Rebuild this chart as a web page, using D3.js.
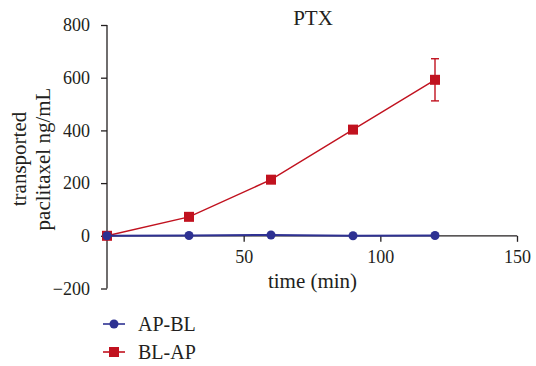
<!DOCTYPE html>
<html>
<head>
<meta charset="utf-8">
<script src="https://cdn.jsdelivr.net/npm/d3@7"></script>
<style>
  html, body { margin: 0; padding: 0; background: #fff; }
  svg text { font-family: "Liberation Serif", "DejaVu Serif", serif; fill: #231f20; }
</style>
</head>
<body>
<svg id="chart" width="536" height="366"></svg>
<script>
// Transport of paclitaxel over time, both directions
const times = [0, 30, 60, 90, 120];
const apBl = [0, 1, 3, 0, 1];
const blAp = [0, 72, 213, 403, 592];
const blApErr = [0, 0, 0, 0, 80];
const xTicks = [50, 100, 150];
const yTicks = [-200, 0, 200, 400, 600, 800];
const seriesNames = ["AP-BL", "BL-AP"];
const seriesColors = ["#2e3192", "#c1121f"];

const svg = d3.select("#chart");
const x = d3.scaleLinear().domain([0, 150]).range([107, 517]);
const y = d3.scaleLinear().domain([-200, 800]).range([288.5, 25]);

// y axis
const yAxis = svg.append("g")
  .attr("transform", `translate(${x(0)},0)`)
  .call(d3.axisLeft(y).tickValues(yTicks).tickSize(6).tickPadding(11)
    .tickFormat(d => d < 0 ? "\u2212" + Math.abs(d) : d));
// x axis through y = 0
const xAxis = svg.append("g")
  .attr("transform", `translate(0,${y(0)})`)
  .call(d3.axisBottom(x).tickValues(xTicks).tickSize(6).tickPadding(7));

[yAxis, xAxis].forEach(g => {
  g.select(".domain").attr("stroke", "#231f20").attr("stroke-width", 1.3);
  g.selectAll(".tick line").attr("stroke", "#231f20").attr("stroke-width", 1.3);
  g.selectAll(".tick text").attr("font-size", 18).style("fill", "#231f20")
    .style("font-family", '"Liberation Serif", serif');
});
yAxis.select(".domain").attr("d", `M0,${y(-200)}V${y(800)}`);
xAxis.select(".domain").attr("d", `M${x(0)},0H${x(150)}`);
xAxis.selectAll(".tick text").attr("dy", null).attr("y", 27);

// title and axis labels
svg.append("text").attr("x", 313).attr("y", 25).attr("text-anchor", "middle")
  .attr("font-size", 21).text("PTX");
svg.append("text").attr("x", 312.5).attr("y", 288).attr("text-anchor", "middle")
  .attr("font-size", 21).text("time (min)");
const yl = svg.append("text").attr("transform", "translate(0,159) rotate(-90)")
  .attr("text-anchor", "middle").attr("font-size", 21);
yl.append("tspan").attr("x", 0).attr("y", 26).text("transported");
yl.append("tspan").attr("x", 0).attr("y", 50).text("paclitaxel ng/mL");

const line = d3.line().x(d => x(d[0])).y(d => y(d[1]));

// BL-AP series
const blData = times.map((t, i) => [t, blAp[i], blApErr[i]]);
const bl = svg.append("g");
bl.selectAll(".err").data(blData.filter(d => d[2] > 0)).join("g").each(function(d) {
  const g = d3.select(this);
  const cx = x(d[0]);
  g.append("line").attr("x1", cx).attr("x2", cx).attr("y1", y(d[1] + d[2])).attr("y2", y(d[1] - d[2]));
  g.append("line").attr("x1", cx - 4).attr("x2", cx + 4).attr("y1", y(d[1] + d[2])).attr("y2", y(d[1] + d[2]));
  g.append("line").attr("x1", cx - 4).attr("x2", cx + 4).attr("y1", y(d[1] - d[2])).attr("y2", y(d[1] - d[2]));
}).selectAll("line").attr("stroke", seriesColors[1]).attr("stroke-width", 1.4);
bl.append("path").datum(blData).attr("d", line).attr("fill", "none")
  .attr("stroke", seriesColors[1]).attr("stroke-width", 1.4);
bl.selectAll("rect").data(blData).join("rect")
  .attr("x", d => x(d[0]) - 5).attr("y", d => y(d[1]) - 5)
  .attr("width", 10).attr("height", 10).attr("fill", seriesColors[1]);

// AP-BL series
const apData = times.map((t, i) => [t, apBl[i]]);
const ap = svg.append("g");
ap.append("path").datum(apData).attr("d", line).attr("fill", "none")
  .attr("stroke", seriesColors[0]).attr("stroke-width", 2);
ap.selectAll("circle").data(apData).join("circle")
  .attr("cx", d => x(d[0])).attr("cy", d => y(d[1])).attr("r", 4.5)
  .attr("fill", seriesColors[0]);

// legend
const legend = svg.append("g");
seriesNames.forEach((name, i) => {
  const ly = 324 + i * 28;
  const g = legend.append("g");
  g.append("line").attr("x1", 103).attr("x2", 125).attr("y1", ly).attr("y2", ly)
    .attr("stroke", seriesColors[i]).attr("stroke-width", 1.6);
  if (i === 0) {
    g.append("circle").attr("cx", 114).attr("cy", ly).attr("r", 4.5).attr("fill", seriesColors[i]);
  } else {
    g.append("rect").attr("x", 109).attr("y", ly - 5).attr("width", 10).attr("height", 10).attr("fill", seriesColors[i]);
  }
  g.append("text").attr("x", 138).attr("y", ly + 6.5).attr("font-size", 20).text(name);
});
</script>
</body>
</html>
